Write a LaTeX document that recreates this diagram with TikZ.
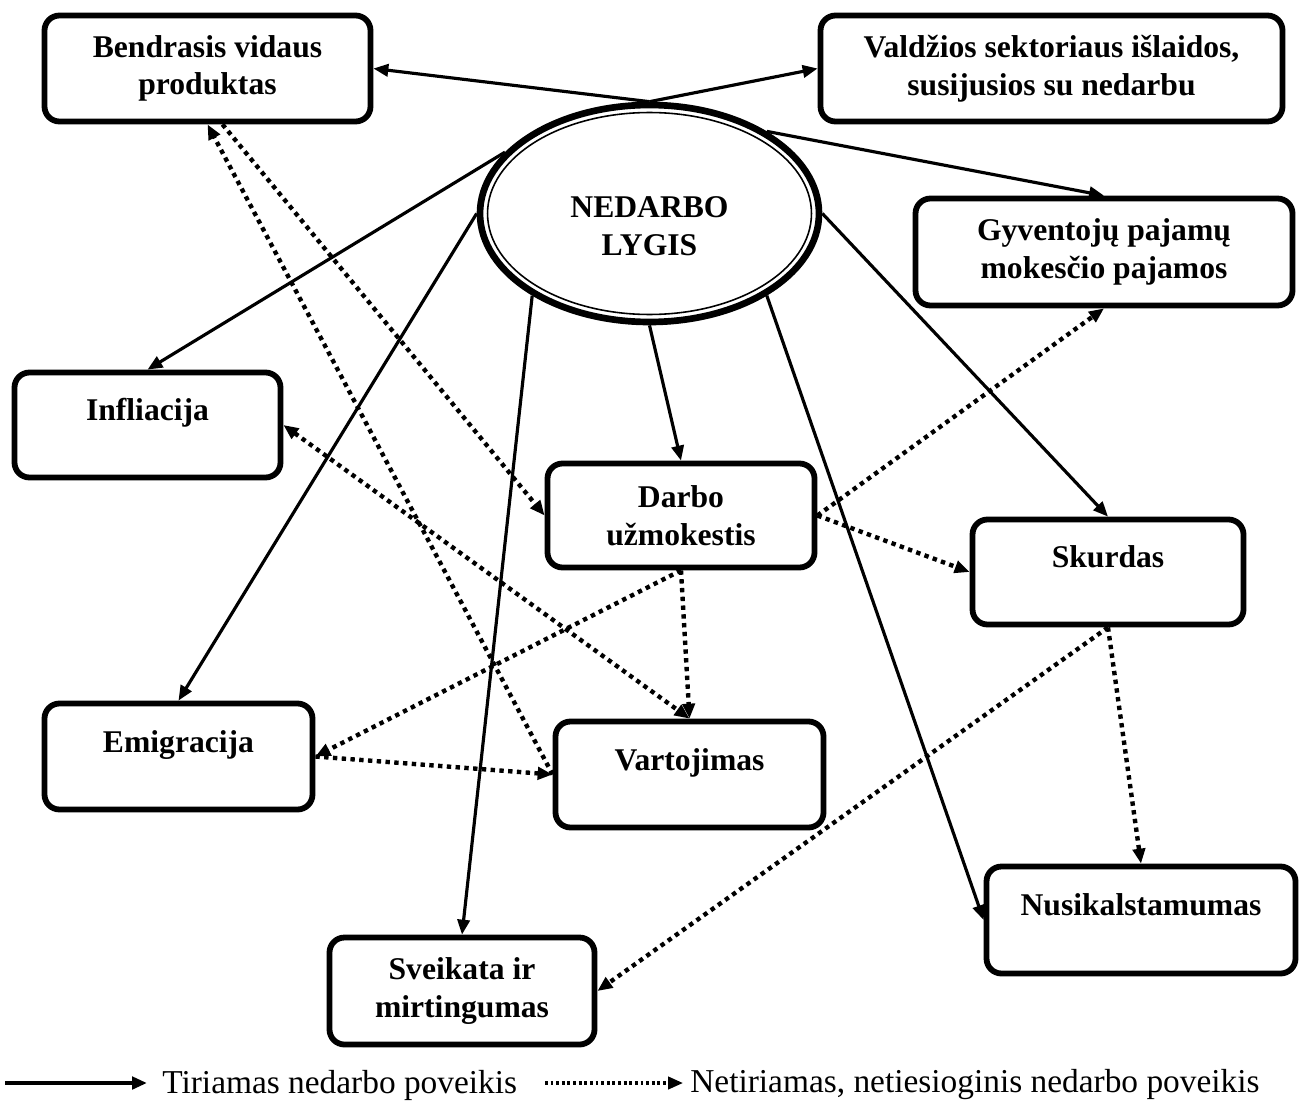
\documentclass[tikz,border=0pt]{standalone}
\usepackage{fontspec}
\setmainfont{Liberation Serif}
\usetikzlibrary{shapes.geometric,arrows.meta}
\begin{document}
\begin{tikzpicture}
[x=0.02cm,y=-0.02cm,>={Triangle[length=8.5pt,width=7pt]},
  boxDecorate/.style={shape=rectangle,rounded corners=0.3cm,draw,line width=3.3pt,
    inner sep=0pt,align=center,font=\fontsize{18}{21.5}\selectfont\bfseries},%
  ovalDecorate/.style={shape=ellipse,draw,line width=3.8pt,inner sep=0pt,
    align=center,font=\fontsize{18}{21.5}\selectfont\bfseries},%
  lineDecorate/.style={->,line width=1.8pt},%
  dotDecorate/.style={->,line width=2.5pt,dash pattern=on 2.5pt off 2.5pt},%
  legendDecorate/.style={anchor=west,inner sep=0pt,font=\fontsize{19}{22}\selectfont}]
\useasboundingbox (0,0) rectangle (1310,1108);
%% central oval
\node (nedarbo) at (649.5,213.5) [ovalDecorate,minimum width=339*0.02cm,
  minimum height=217*0.02cm] {\mbox{}\\[5.2pt]NEDARBO\\LYGIS};
\draw[line width=0.9pt] (nedarbo.center) ellipse [x radius=3.24cm,y radius=2.02cm];
%% boxes
\foreach \nodename/\x/\y/\w/\h/\nodetext in {
  bvp/207.5/68.5/326/106/{Bendrasis vidaus\\produktas},
  valdz/1051.5/68.5/462/106/{Valdžios sektoriaus išlaidos,\\susijusios su nedarbu},
  gpm/1104/252/377/107/{Gyventojų pajamų\\mokesčio pajamos},
  infl/147.5/425/266/105/{Infliacija\\[-4pt]\mbox{}},
  darbo/681/515.5/267/104/{Darbo\\užmokestis},
  skurd/1108/572/271/105/{Skurdas\\[-4pt]\mbox{}},
  emigr/178.5/756.5/268/106/{Emigracija\\[-4pt]\mbox{}},
  vart/689.5/774.5/268/106/{Vartojimas\\[-4pt]\mbox{}},
  sveik/462/991/265/107/{Sveikata ir\\mirtingumas},
  nusik/1141/920/309/107/{Nusikalstamumas\\[-4pt]\mbox{}}}
{
  \node (\nodename) at (\x,\y) [boxDecorate,minimum width=\w*0.02cm,
    minimum height=\h*0.02cm] {\nodetext};
}
%% studied effects
\path
\foreach \startnode/\endnode in {
  nedarbo.90/bvp.east, nedarbo.90/valdz.west, nedarbo.35/gpm.north,
  nedarbo.157/infl.north, nedarbo.180/emigr.north, nedarbo.215/sveik.north,
  nedarbo.270/darbo.north, nedarbo.0/skurd.north, nedarbo.325/nusik.west}
{
  (\startnode) edge[lineDecorate] (\endnode)
};
%% indirect effects
\path
\foreach \startnode/\endnode in {
  vart.west/bvp.south, bvp.-75/darbo.west, darbo.south/vart.north,
  darbo.south/emigr.east, emigr.east/vart.west, darbo.east/gpm.south,
  darbo.east/skurd.west, skurd.south/nusik.north, skurd.south/sveik.east}
{
  (\startnode) edge[dotDecorate] (\endnode)
};
\draw[dotDecorate,<->] (infl.east) -- (vart.north);
%% legend
\coordinate (solidfrom) at (5,1083);
\node (solidtext) [legendDecorate] at (162,1085) {Tiriamas nedarbo poveikis};
\coordinate (dotfrom) at (545,1083);
\node (dottext) [legendDecorate] at (690,1085) {Netiriamas, netiesioginis nedarbo poveikis};
\draw[lineDecorate,line width=2.8pt,shorten >=0.3cm] (solidfrom) -- (solidfrom -| solidtext.west);
\draw[dotDecorate,line width=1.8pt,dash pattern=on 1.6pt off 1.6pt,shorten >=0.14cm]
  (dotfrom) -- (dotfrom -| dottext.west);
\end{tikzpicture}
\end{document}
